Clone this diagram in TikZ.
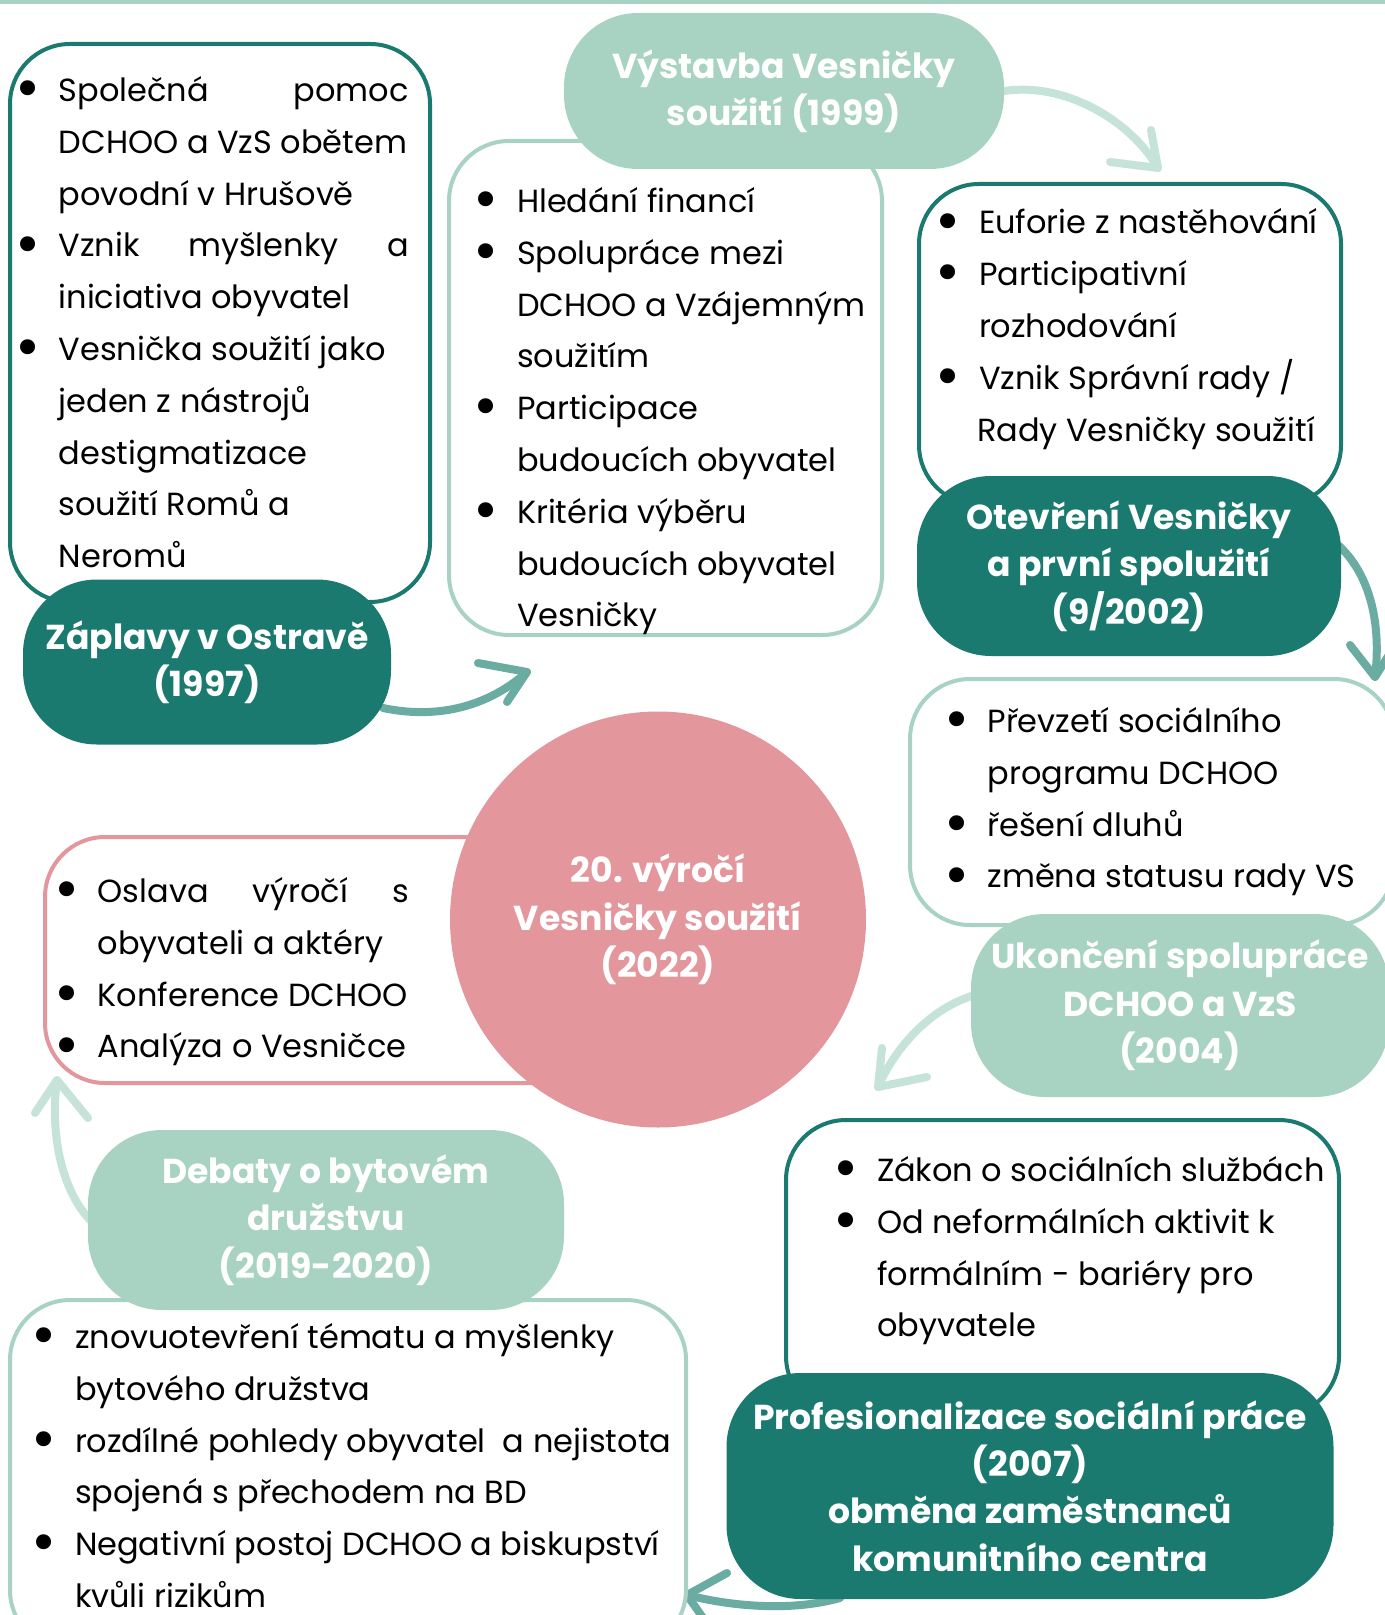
\documentclass[tikz,border=0pt]{standalone}
\usepackage{fontspec}
\setmainfont{Poppins}
\definecolor{dteal}{HTML}{1B7A6F}
\definecolor{lgreen}{HTML}{A8D3C3}
\definecolor{pinkc}{HTML}{E3979C}
\definecolor{marrow}{HTML}{6AACA2}
\definecolor{larrow}{HTML}{C5E3D9}
\newcommand{\bodyfont}{\fontsize{16}{25.9}\selectfont}
\newcommand{\ttlfont}{\fontsize{17.3}{23.7}\selectfont\bfseries}
\newcommand{\bul}{\leavevmode\llap{\raisebox{-3.6pt}{\scalebox{1.9}{•}}\hspace{9pt}}}
\newcommand{\txt}[2]{\begin{minipage}[t]{#1}\bodyfont\raggedright #2\end{minipage}}
\tikzset{
  boxx/.style={draw, line width=2pt, fill=white, rounded corners=30pt, anchor=north west, inner sep=0pt, outer sep=0pt},
  ttl/.style={rounded corners=37pt, text=white, font=\ttlfont, align=center, inner sep=0pt},
  bodytxt/.style={anchor=base west, inner sep=0pt, outer sep=0pt},
  arr/.style={line width=4pt, line cap=round, line join=round}
}
\begin{document}
\begin{tikzpicture}[x=0.5pt,y=-0.5pt]
\useasboundingbox (0,0) rectangle (1385,1615);
\clip (0,0) rectangle (1385,1615);
\fill[white] (0,0) rectangle (1385,1615);
\fill[lgreen] (0,0) rectangle (1385,4);

% arrow coordinates
\coordinate (a1s) at (383,708);  \coordinate (a1t) at (527,672);
\coordinate (a1l) at (478,663);  \coordinate (a1r) at (507,702);
\coordinate (a2s) at (1004,91);  \coordinate (a2t) at (1158,168);
\coordinate (a2l) at (1110,162); \coordinate (a2r) at (1151,130);
\coordinate (a3s) at (1338,545); \coordinate (a3t) at (1375,677);
\coordinate (a3l) at (1350,645); \coordinate (a3r) at (1392,650);
\coordinate (a4s) at (975,995);  \coordinate (a4t) at (878,1087);
\coordinate (a4l) at (882,1048); \coordinate (a4r) at (927,1077);
\coordinate (a5s) at (840,1598); \coordinate (a5t) at (687,1595);
\coordinate (a5l) at (727,1573); \coordinate (a5r) at (708,1625);
\coordinate (a6s) at (92,1222);  \coordinate (a6t) at (57,1080);
\coordinate (a6l) at (35,1113);  \coordinate (a6r) at (88,1118);

% arrows
\draw[arr, marrow] (a1s) .. controls (440,720) and (490,705) .. (a1t);
\draw[arr, marrow] (a1l) -- (a1t) -- (a1r);
\draw[arr, larrow] (a2s) .. controls (1065,82) and (1130,120) .. (a2t);
\draw[arr, larrow] (a2l) -- (a2t) -- (a2r);
\draw[arr, marrow] (a3s) .. controls (1368,572) and (1382,620) .. (a3t);
\draw[arr, marrow] (a3l) -- (a3t) -- (a3r);
\draw[arr, larrow] (a4s) .. controls (930,1008) and (895,1048) .. (a4t);
\draw[arr, larrow] (a4l) -- (a4t) -- (a4r);
\draw[arr, marrow] (a5s) .. controls (790,1612) and (730,1606) .. (a5t);
\draw[arr, marrow] (a5l) -- (a5t) -- (a5r);
\draw[arr, larrow] (a6s) .. controls (60,1190) and (50,1130) .. (a6t);
\draw[arr, larrow] (a6l) -- (a6t) -- (a6r);

% Box A + title A
\node[boxx, draw=dteal, minimum width=210pt, minimum height=279pt] (bA) at (10,44) {};
\node[bodytxt] (tA) at (58.7,101.5) {\txt{175pt}{%
\bul Společná\hfill pomoc\\
DCHOO a VzS obětem\\
povodní v Hrušově\\
\bul Vznik\hfill myšlenky\hfill a\\
iniciativa obyvatel\\
\bul Vesnička soužití jako\\
jeden z nástrojů\\
destigmatizace\\
soužití Romů a\\
Neromů}};
\node[ttl, fill=dteal, minimum width=184pt, minimum height=82.5pt] (hA) at (207,662) {Záplavy v Ostravě\\(1997)};

% Box B + title B
\node[boxx, draw=lgreen, minimum width=216.5pt, minimum height=247pt] (bB) at (449,141) {};
\node[bodytxt] (tB) at (517,212.5) {\txt{200pt}{%
\bul Hledání financí\\
\bul Spolupráce mezi\\
DCHOO a Vzájemným\\
soužitím\\
\bul Participace\\
budoucích obyvatel\\
\bul Kritéria výběru\\
budoucích obyvatel\\
Vesničky}};
\node[ttl, fill=lgreen, minimum width=220pt, minimum height=78pt] (hB) at (784,91) {Výstavba Vesničky\\soužití (1999)};

% Box C + title C
\node[boxx, draw=dteal, minimum width=211pt, minimum height=160.5pt] (bC) at (919,184) {};
\node[bodytxt] (tC) at (979,234) {\txt{200pt}{%
\bul Euforie z nastěhování\\
\bul Participativní\\
rozhodování\\
\bul Vznik Správní rady /\\
\hspace{-1pt}Rady Vesničky soužití}};
\node[ttl, fill=dteal, minimum width=212pt, minimum height=90pt] (hC) at (1129,566) {Otevření Vesničky\\a první spolužití\\(9/2002)};

% Box D + title D
\node[boxx, draw=lgreen, minimum width=242pt, minimum height=123pt] (bD) at (910,679) {};
\node[bodytxt] (tD) at (987.5,732.5) {\txt{200pt}{%
\bul Převzetí sociálního\\
programu DCHOO\\
\bul řešení dluhů\\
\bul změna statusu rady VS}};
\node[ttl, fill=lgreen, minimum width=209pt, minimum height=91.5pt] (hD) at (1180,1005.5) {Ukončení spolupráce\\DCHOO a VzS\\(2004)};

% Box E + circle
\node[boxx, draw=pinkc, minimum width=277.5pt, minimum height=123pt] (bE) at (45,837) {};
\node[bodytxt] (tE) at (97.8,902.5) {\txt{155.5pt}{%
\bul Oslava\hfill výročí\hfill s\\
obyvateli a aktéry\\
\bul Konference DCHOO\\
\bul Analýza o Vesničce}};
\node[circle, fill=pinkc, minimum size=208pt, inner sep=0pt, text=white, font=\ttlfont, align=center] (cc) at (658,919.5) {20. výročí\\Vesničky soužití\\(2022)};

% Box F + title E
\node[boxx, draw=lgreen, minimum width=338pt, minimum height=175pt] (bF) at (10,1300) {};
\node[bodytxt] (tF) at (75,1348.5) {\txt{330pt}{%
\bul znovuotevření tématu a myšlenky\\
bytového družstva\\
\bul rozdílné pohledy obyvatel\ \ a nejistota\\
spojená s přechodem na BD\\
\bul Negativní postoj DCHOO a biskupství\\
kvůli rizikům}};
\node[ttl, fill=lgreen, minimum width=238pt, minimum height=90pt] (hE) at (326,1220) {Debaty o bytovém\\družstvu\\(2019-2020)};

% Box G + title G
\node[boxx, draw=dteal, minimum width=276.5pt, minimum height=148pt] (bG) at (786,1120) {};
\node[bodytxt] (tG) at (877,1181.5) {\txt{250pt}{%
\bul Zákon o sociálních službách\\
\bul Od neformálních aktivit k\\
formálním - bariéry pro\\
obyvatele}};
\node[ttl, fill=dteal, minimum width=303.5pt, minimum height=113pt] (hG) at (1030,1486) {Profesionalizace sociální práce\\(2007)\\obměna zaměstnanců\\komunitního centra};
\end{tikzpicture}
\end{document}
